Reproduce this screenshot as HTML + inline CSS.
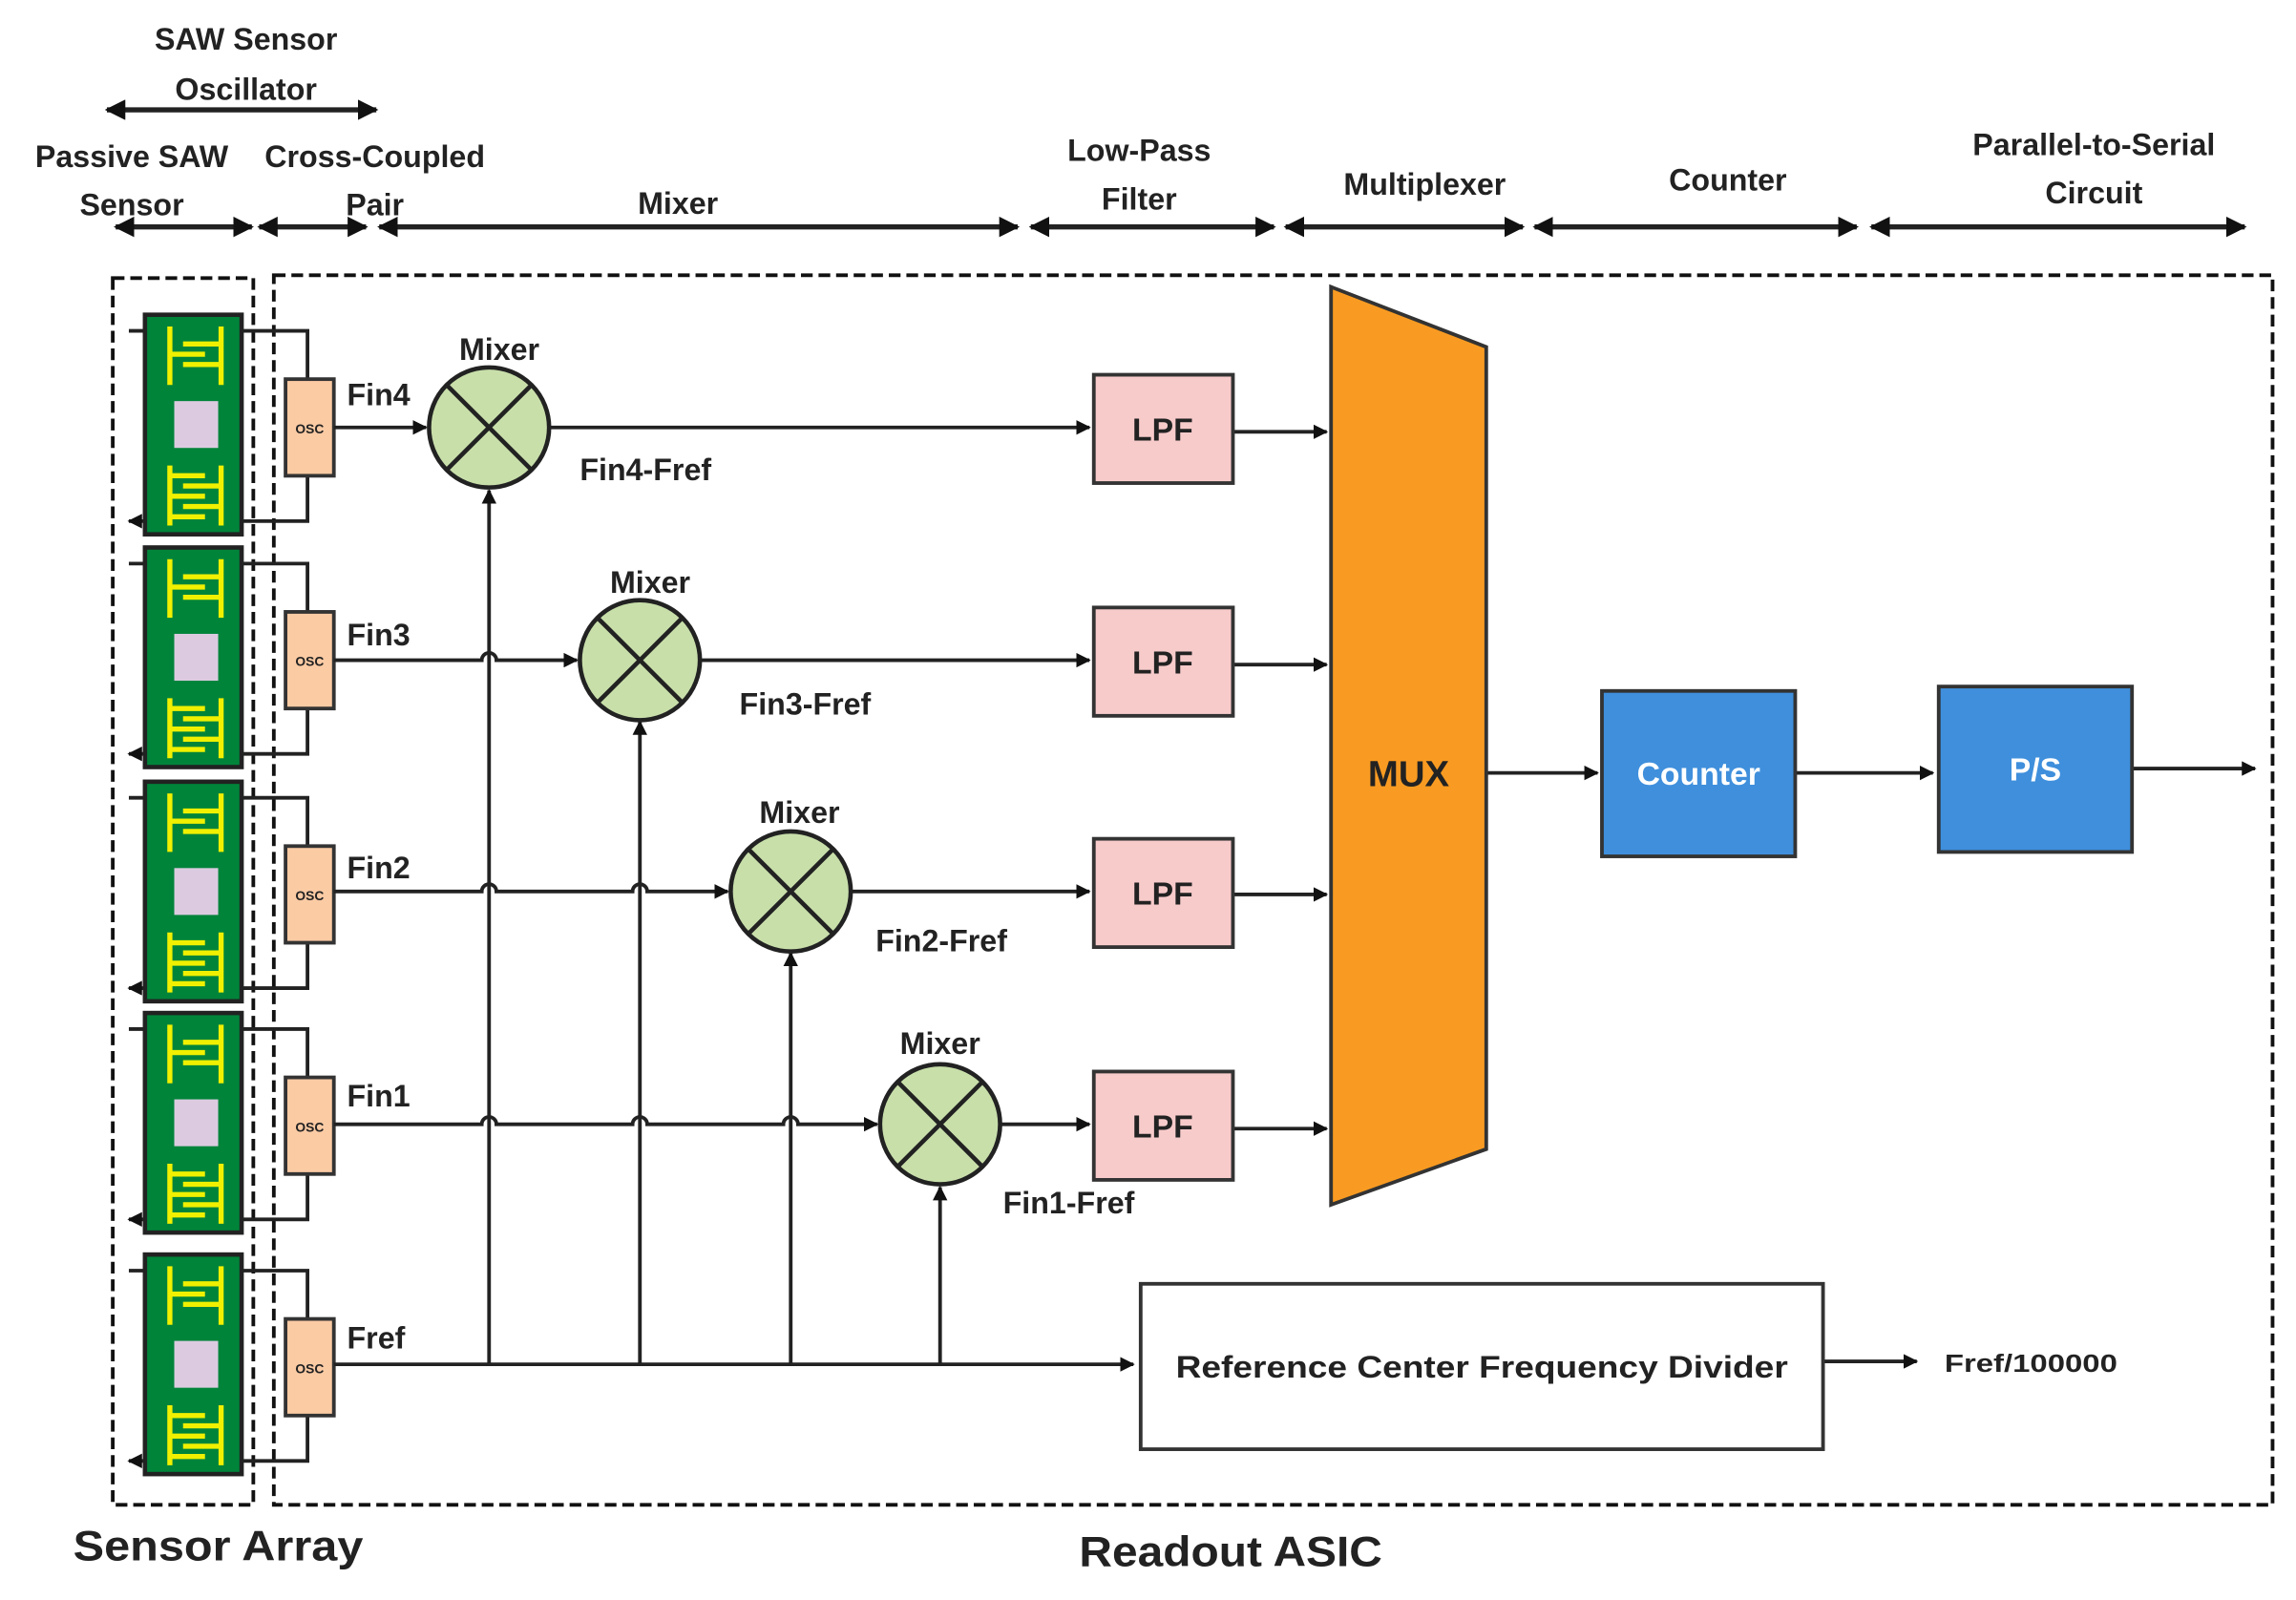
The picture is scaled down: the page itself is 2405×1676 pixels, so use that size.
<!DOCTYPE html>
<html><head><meta charset="utf-8"><style>html,body{margin:0;padding:0;background:#fff}svg{display:block}text{font-family:"Liberation Sans",sans-serif;font-weight:bold;fill:#222}</style></head>
<body>
<svg width="2405" height="1676" viewBox="0 0 1568 1093" preserveAspectRatio="none" xmlns="http://www.w3.org/2000/svg">
<defs>
<marker id="a" viewBox="0 0 10 10" refX="9" refY="5" markerWidth="4" markerHeight="4" orient="auto-start-reverse"><path d="M0,0L10,5L0,10z" fill="#111"/></marker>
<g id="sens">
 <rect x="99" y="0" width="66" height="150" fill="#00843a" stroke="#222" stroke-width="3"/>
 <g stroke="#f0f000" stroke-width="3.5" fill="none">
  <path d="M116,8V48M151,8V48M151,20H125M116,27H140M151,34H125"/>
  <path d="M116,103V144M151,103V144M116,110H140M151,117H125M116,124H140M151,131H125M116,138H140"/>
 </g>
 <rect x="119" y="59" width="30" height="32" fill="#dccbe0"/>
 <path d="M165,11H210V44M210,110V141H165" stroke="#222" stroke-width="2.5" fill="none"/>
 <path d="M99,11H88M99,141H88" stroke="#222" stroke-width="2.5" fill="none" marker-end="url(#a)"/>
 <rect x="195" y="44" width="33" height="66" fill="#fbcba4" stroke="#333" stroke-width="2.5"/>
 <text x="211.5" y="81" font-size="9" text-anchor="middle" font-weight="normal">OSC</text>
</g>
<g id="mix"><circle r="41" fill="#c8dfaa" stroke="#222" stroke-width="3"/><path d="M-29,-29L29,29M29,-29L-29,29" stroke="#222" stroke-width="3"/></g>
<g id="lpf"><rect x="747" y="-37" width="95" height="74" fill="#f8cbcb" stroke="#333" stroke-width="2.5"/><text x="794" y="8" font-size="22" text-anchor="middle">LPF</text></g>
</defs>

<!-- headers -->
<g font-size="21" text-anchor="middle">
<text x="168" y="34">SAW Sensor</text><text x="168" y="68">Oscillator</text>
<text x="90" y="114">Passive SAW</text><text x="90" y="147">Sensor</text>
<text x="256" y="114">Cross-Coupled</text><text x="256" y="147">Pair</text>
<text x="463" y="146">Mixer</text>
<text x="778" y="110">Low-Pass</text><text x="778" y="143">Filter</text>
<text x="973" y="133">Multiplexer</text>
<text x="1180" y="130">Counter</text>
<text x="1430" y="106">Parallel-to-Serial</text><text x="1430" y="139">Circuit</text>
</g>
<g stroke="#222" stroke-width="3.5" marker-start="url(#a)" marker-end="url(#a)">
<path d="M73,75H257"/><path d="M79,155H172"/><path d="M177,155H250"/><path d="M259,155H695"/><path d="M704,155H870"/><path d="M878,155H1040"/><path d="M1048,155H1268"/><path d="M1278,155H1533"/>
</g>

<!-- dashed boxes -->
<rect x="77" y="190" width="96" height="838" fill="none" stroke="#111" stroke-width="2.5" stroke-dasharray="8,4"/>
<rect x="187" y="188" width="1365" height="840" fill="none" stroke="#111" stroke-width="2.5" stroke-dasharray="8,4"/>

<use href="#sens" y="215"/><use href="#sens" y="374"/><use href="#sens" y="534"/><use href="#sens" y="692"/><use href="#sens" y="857"/>

<g stroke="#222" stroke-width="2.5" fill="none">
 <!-- vertical fref lines -->
 <path d="M334,932V335" marker-end="url(#a)"/>
 <path d="M437,932V493" marker-end="url(#a)"/>
 <path d="M540,932V651" marker-end="url(#a)"/>
 <path d="M642,932V811" marker-end="url(#a)"/>
 <path d="M228,932H774" marker-end="url(#a)"/>
 <!-- inputs -->
 <path d="M228,292H291" marker-end="url(#a)"/>
 <path d="M228,451H329a5,5 0 0 1 10,0H394" marker-end="url(#a)"/>
 <path d="M228,609H329a5,5 0 0 1 10,0H432a5,5 0 0 1 10,0H497" marker-end="url(#a)"/>
 <path d="M228,768H329a5,5 0 0 1 10,0H432a5,5 0 0 1 10,0H535a5,5 0 0 1 10,0H599" marker-end="url(#a)"/>
 <!-- outputs -->
 <path d="M376,292H744" marker-end="url(#a)"/>
 <path d="M479,451H744" marker-end="url(#a)"/>
 <path d="M582,609H744" marker-end="url(#a)"/>
 <path d="M684,768H744" marker-end="url(#a)"/>
 <path d="M842,295H906" marker-end="url(#a)"/>
 <path d="M842,454H906" marker-end="url(#a)"/>
 <path d="M842,611H906" marker-end="url(#a)"/>
 <path d="M842,771H906" marker-end="url(#a)"/>
 <path d="M1015,528H1091" marker-end="url(#a)"/>
 <path d="M1226,528H1320" marker-end="url(#a)"/>
 <path d="M1456,525H1540" marker-end="url(#a)"/>
 <path d="M1245,930H1309" marker-end="url(#a)"/>
</g>

<use href="#mix" x="334" y="292"/><use href="#mix" x="437" y="451"/><use href="#mix" x="540" y="609"/><use href="#mix" x="642" y="768"/>
<use href="#lpf" y="293"/><use href="#lpf" y="452"/><use href="#lpf" y="610"/><use href="#lpf" y="769"/>

<polygon points="909,196 1015,237 1015,785 909,823" fill="#f99b22" stroke="#333" stroke-width="2.5"/>
<text x="962" y="537" font-size="25" text-anchor="middle">MUX</text>
<rect x="1094" y="472" width="132" height="113" fill="#3f8fdc" stroke="#333" stroke-width="2.5"/>
<text x="1160" y="536" font-size="22" text-anchor="middle" style="fill:#fff">Counter</text>
<rect x="1324" y="469" width="132" height="113" fill="#3f8fdc" stroke="#333" stroke-width="2.5"/>
<text x="1390" y="533" font-size="22" text-anchor="middle" style="fill:#fff">P/S</text>
<rect x="779" y="877" width="466" height="113" fill="#fff" stroke="#333" stroke-width="2.5"/>
<text x="1012" y="941" font-size="21" text-anchor="middle" textLength="418" lengthAdjust="spacingAndGlyphs">Reference Center Frequency Divider</text>
<text x="1328" y="937" font-size="17" textLength="118" lengthAdjust="spacingAndGlyphs">Fref/100000</text>

<g font-size="21" style="fill:#1a2a4a">
<text x="237" y="277">Fin4</text><text x="237" y="441">Fin3</text><text x="237" y="600">Fin2</text><text x="237" y="756">Fin1</text><text x="237" y="921">Fref</text>
</g>
<g font-size="21">
<text x="396" y="328">Fin4-Fref</text><text x="505" y="488">Fin3-Fref</text><text x="598" y="650">Fin2-Fref</text><text x="685" y="829">Fin1-Fref</text>
<text x="341" y="246" text-anchor="middle">Mixer</text><text x="444" y="405" text-anchor="middle">Mixer</text><text x="546" y="562" text-anchor="middle">Mixer</text><text x="642" y="720" text-anchor="middle">Mixer</text>
</g>
<text x="50" y="1066" font-size="29" textLength="198" lengthAdjust="spacingAndGlyphs">Sensor Array</text>
<text x="737" y="1070" font-size="29" textLength="207" lengthAdjust="spacingAndGlyphs">Readout ASIC</text>
</svg>
</body></html>
